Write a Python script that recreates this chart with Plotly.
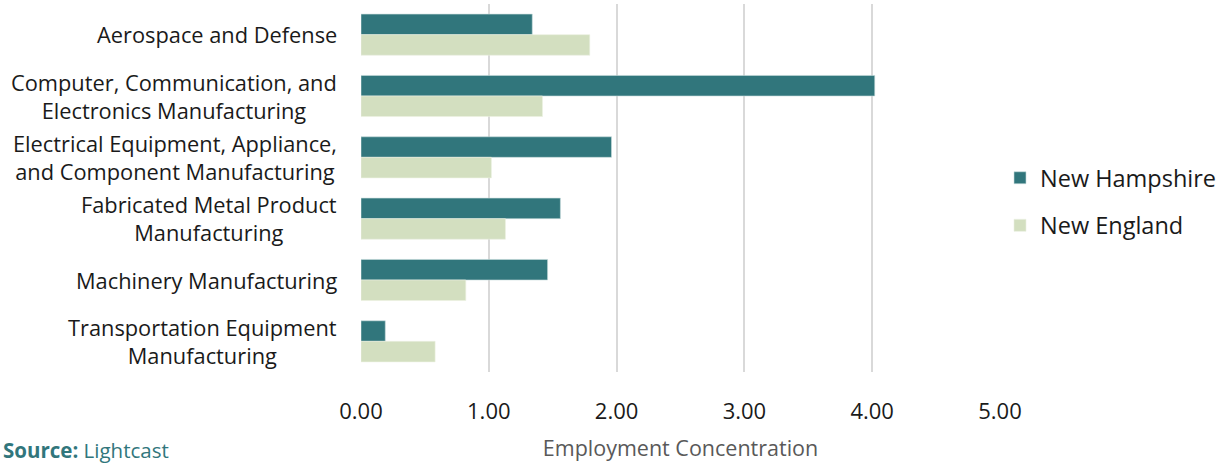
import plotly.graph_objects as go

categories = [
    "Aerospace and Defense",
    "Computer, Communication, and<br>Electronics Manufacturing",
    "Electrical Equipment, Appliance,<br>and Component Manufacturing",
    "Fabricated Metal Product<br>Manufacturing",
    "Machinery Manufacturing",
    "Transportation Equipment<br>Manufacturing",
]
new_hampshire = [1.34, 4.02, 1.96, 1.56, 1.46, 0.19]
new_england = [1.79, 1.42, 1.02, 1.13, 0.82, 0.58]
x_ticks = [0, 1, 2, 3, 4, 5]
x_tick_labels = ["0.00", "1.00", "2.00", "3.00", "4.00", "5.00"]

FONT = "Open Sans"
NH_COLOR = "#31767C"
NE_COLOR = "#D3DFC0"

fig = go.Figure()
fig.add_trace(go.Bar(
    y=categories, x=new_hampshire, orientation="h", name="New Hampshire",
    marker=dict(color=NH_COLOR, line=dict(color="rgba(200,220,220,0.6)", width=1)),
    legendgroup="a",
))
fig.add_trace(go.Bar(
    y=categories, x=new_england, orientation="h", name="New England",
    marker=dict(color=NE_COLOR, line=dict(color="rgba(235,240,225,0.6)", width=1)),
    legendgroup="b",
))

for c in categories:
    fig.add_annotation(
        x=0, xref="paper", y=c, yref="y", text=c, showarrow=False,
        xanchor="right", align="center", xshift=-22,
        font=dict(family=FONT, size=21.8, color="#1a1a1a"),
    )

fig.add_annotation(
    x=0, xref="paper", y=0, yref="paper", xshift=-360, yshift=-78,
    xanchor="left", yanchor="middle", showarrow=False,
    text="<b>Source:</b> Lightcast",
    font=dict(family=FONT, size=20.5, color=NH_COLOR),
)

fig.update_layout(
    width=1226, height=467,
    margin=dict(l=361, r=226, t=4, b=95),
    paper_bgcolor="white", plot_bgcolor="white",
    barmode="group", bargap=0.33, bargroupgap=0,
    font=dict(family=FONT, color="#1a1a1a"),
    showlegend=True,
    legend=dict(
        x=1.0, xanchor="left", y=0.462, yanchor="middle", xref="paper",
        traceorder="grouped", tracegroupgap=14,
        font=dict(family=FONT, size=23.5, color="#1a1a1a"),
        itemwidth=30, bgcolor="rgba(0,0,0,0)",
    ),
    xaxis=dict(
        range=[0, 5], tickvals=x_ticks, ticktext=x_tick_labels,
        showgrid=True, gridcolor="#D9D9D9", gridwidth=2,
        zeroline=False, showline=False, ticks="",
        ticklabelstandoff=24,
        tickfont=dict(family=FONT, size=22, color="#1a1a1a"),
        title=dict(text="Employment Concentration", standoff=16,
                   font=dict(family=FONT, size=21.5, color="#595959")),
        fixedrange=True,
    ),
    yaxis=dict(
        autorange="reversed", showticklabels=False, showgrid=False,
        zeroline=False, showline=False, ticks="", fixedrange=True,
    ),
)

fig.write_html(
    "out.html",
    config={"displayModeBar": False},
    post_script="document.body.style.margin='0';document.body.style.overflow='hidden';",
)
